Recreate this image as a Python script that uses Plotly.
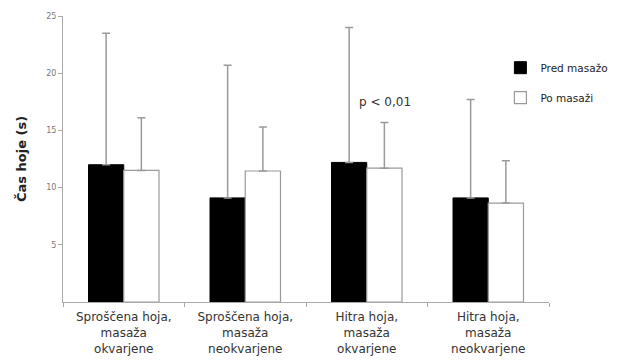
import plotly.graph_objects as go

categories = ["Sproščena hoja,<br>masaža<br>okvarjene", "Sproščena hoja,<br>masaža<br>neokvarjene",
              "Hitra hoja,<br>masaža<br>okvarjene", "Hitra hoja,<br>masaža<br>neokvarjene"]
pred_values = [12.0, 9.1, 12.2, 9.1]
pred_err = [11.5, 11.6, 11.8, 8.6]
po_values = [11.5, 11.45, 11.7, 8.65]
po_err = [4.6, 3.85, 4.0, 3.7]
y_ticks = [5, 10, 15, 20, 25]

font = "DejaVu Sans, sans-serif"

fig = go.Figure()
fig.add_trace(go.Bar(
    x=categories, y=pred_values, name="Pred masažo", legendgroup="a",
    marker=dict(color="black", line=dict(color="black", width=1)),
    error_y=dict(type="data", array=pred_err, symmetric=False, arrayminus=[0]*4,
                 color="#9a9a9a", thickness=1.5, width=4),
))
fig.add_trace(go.Bar(
    x=categories, y=po_values, name="Po masaži", legendgroup="b",
    marker=dict(color="white", line=dict(color="#9a9a9a", width=1.2)),
    error_y=dict(type="data", array=po_err, symmetric=False, arrayminus=[0]*4,
                 color="#9a9a9a", thickness=1.5, width=4),
))

fig.add_annotation(x=2, y=17.5, xref="x", yref="y", text="p < 0,01", showarrow=False,
                   xshift=18, font=dict(size=12, color="#333", family=font))

# page body has an 8px default margin, so the figure is 8px smaller and offset
fig.update_layout(
    width=613, height=356,
    margin=dict(l=55, r=72, t=8, b=62, autoexpand=False),
    paper_bgcolor="white", plot_bgcolor="white",
    barmode="group", bargap=0.42, bargroupgap=0,
    font=dict(family=font, color="#333"),
    showlegend=True,
    legend=dict(x=0.9, y=0.87, xanchor="left", yanchor="top", font=dict(size=10.5, color="#222"),
                itemwidth=30, tracegroupgap=11, bgcolor="rgba(0,0,0,0)"),
    xaxis=dict(showline=True, linecolor="#aaa", linewidth=1, ticks="outside", tickcolor="#aaa",
               ticklen=4, tickson="boundaries", tickfont=dict(size=12, color="#333"),
               ticklabelstandoff=4, showgrid=False),
    yaxis=dict(range=[0, 25], tickvals=y_ticks, showline=True, linecolor="#aaa", linewidth=1,
               ticks="outside", tickcolor="#aaa", ticklen=4, showgrid=False, zeroline=False,
               tickfont=dict(size=8, color="#777"),
               title=dict(text="<b>Čas hoje (s)</b>", font=dict(size=13, color="#222"), standoff=16)),
)

fig.write_html("out.html")
